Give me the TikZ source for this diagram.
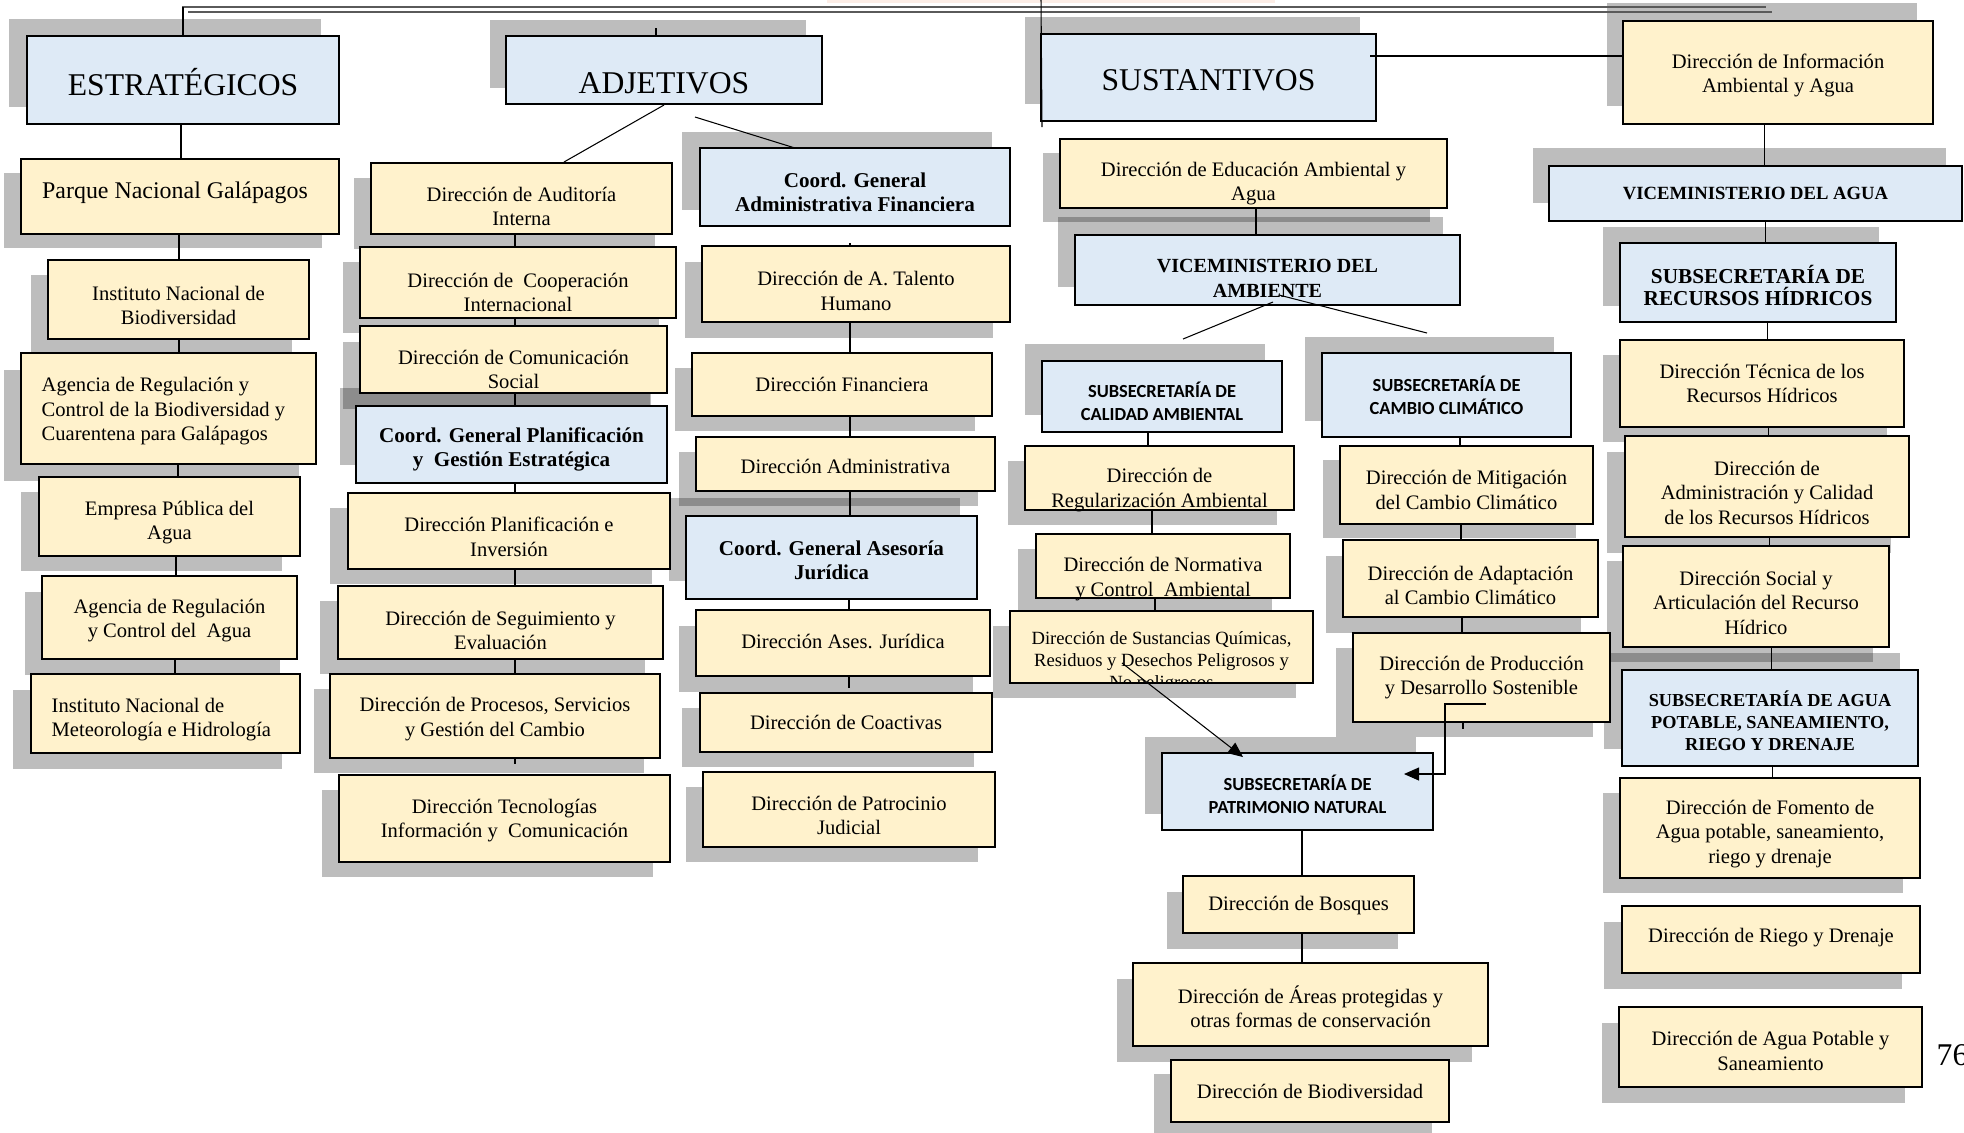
\documentclass[tikz,border=0pt]{standalone}
\usepackage{fontspec}
\setmainfont{Liberation Serif}
\newfontfamily\carlito{Carlito}
\usetikzlibrary{calc,arrows.meta}
\definecolor{yelc}{HTML}{FFF2CC}
\definecolor{bluc}{HTML}{DEEAF6}
\definecolor{topc}{HTML}{5A5A5A}
\definecolor{pinkc}{HTML}{FCEDE6}
\pgfdeclarelayer{paper}
\pgfdeclarelayer{background}
\pgfsetlayers{paper,background,main}
\newcommand\txtf{\fontsize{5.85}{6.97}\selectfont}
\newcommand\bigf{\fontsize{9}{11}\selectfont}
\newcommand\parf{\fontsize{6.8}{8}\selectfont}
\newcommand\bldf{\fontsize{6}{6.9}\selectfont\bfseries}
\newcommand\vaguaf{\fontsize{5.3}{6}\selectfont\bfseries}
\newcommand\srhf{\fontsize{6.05}{6.5}\selectfont\bfseries}
\newcommand\sapf{\fontsize{5.2}{6.2}\selectfont\bfseries}
\newcommand\vamf{\fontsize{5.7}{7.1}\selectfont\bfseries}
\newcommand\sansf{\carlito\fontsize{5.25}{6.45}\selectfont\bfseries}
\newcommand\smf{\fontsize{5.3}{6.2}\selectfont}
\pgfkeys{/bx/.is family}
\pgfkeys{/bx,
  tx/.store in=\bxtx, ty/.store in=\bxty, ind/.store in=\bxind,
  fill/.store in=\bxfill, font/.store in=\bxfont, cl/.store in=\bxcl,
  yel/.style={fill=yelc}, blu/.style={fill=bluc}}
\tikzset{
  boxs/.style={draw=black, line width=0.4pt, inner sep=0pt, outer sep=0pt, rectangle},
  tnode/.style={font=\bxfont, align=center, inner sep=0pt},
  shadowc/.style={fill=black, fill opacity=0.26},
  conn/.style={draw=black, line width=0.3pt},
  topl/.style={draw=topc, line width=0.45pt},
  arr/.style={-{Triangle[length=1.5mm,width=1.3mm]}}
}
% \obox name (x1,y1)(x2,y2)(sx,sy){options}{text}
\def\obox#1(#2,#3)(#4,#5)(#6,#7)#8#9{%
\begingroup
\pgfkeys{/bx,tx=0,ty=0,ind=-1,fill=yelc,font=\txtf,cl=0,#8}%
\pgfmathsetmacro\bxcx{(#2+#4)/2}%
\pgfmathsetmacro\bxcy{(#3+#5)/2}%
\begin{pgfonlayer}{background}%
\fill[shadowc] ({#2+#6},{#3+#7}) rectangle ({#4+#6},{#5+#7});%
\end{pgfonlayer}%
\node[boxs,fill=\bxfill,minimum width={(#4-#2)*0.01cm},minimum height={(#5-#3)*0.01cm}] (#1) at (\bxcx,\bxcy) {};%
\begin{scope}
\ifnum\bxcl=1 \clip (#1.south west) rectangle (#1.north east);\fi
\ifdim\bxind pt<0pt
\node[tnode] (#1-t) at ({\bxcx+\bxtx},{\bxcy+\bxty}) {#9};
\else
\node[tnode,align=left,anchor=west] (#1-t) at ({#2+\bxind},{\bxcy+\bxty}) {#9};
\fi
\end{scope}
\endgroup}
\newcommand\vl[3]{\draw[conn] (#1,0 |- #2.south) -- (#1,0 |- #3.north);}
\begin{document}
\begin{tikzpicture}[x=0.01cm,y=-0.01cm]
\begin{pgfonlayer}{paper}
\fill[white] (0,0) rectangle (1964,1132);
\end{pgfonlayer}
\useasboundingbox (0,0) rectangle (1964,1132);
\fill[pinkc] (827,0) rectangle (1275,2.5);
% top double line
\draw[topl] (182,7) -- (1766,7);
\draw[topl] (188,12) -- (1772,12);

% ESTRATEGICOS column
\obox estr(27,36)(339,124)(-18,-17){blu,font=\bigf,ty=2}{ESTRATÉGICOS}
\obox parque(21,159)(339,234)(-17,14){font=\parf,ty=-4,tx=-5}{Parque Nacional Galápagos}
\obox inst(48,260)(309,339)(-17,15){ty=6}{Instituto Nacional de\\Biodiversidad}
\obox agbio(21,353)(316,464)(-17,17){ind=20,ty=3}{Agencia de Regulación y\\Control de la Biodiversidad y\\Cuarentena para Galápagos}
\obox emp(39,477)(300,556)(-18,15){ty=6}{Empresa Pública del\\Agua}
\obox agag(42,576)(297,659)(-17,16){ty=3}{Agencia de Regulación\\y Control del~ Agua}
\obox meteo(31,674)(300,753)(-18,16){ind=20,ty=6}{Instituto Nacional de\\Meteorología e Hidrología}

% ADJETIVOS
\obox adj(506,36)(822,104)(-16,-16){blu,font=\bigf,ty=13}{ADJETIVOS}
\obox aud(371,163)(672,234)(-17,15){ty=8}{Dirección de Auditoría\\Interna}
\obox coop(360,247)(676,318)(-17,15){ty=10}{Dirección de~ Cooperación\\Internacional}
\obox com(360,326)(667,393)(-17,16){ty=10}{Dirección de Comunicación\\Social}
\obox cplan(356,406)(667,483)(-16,-18){blu,font=\bldf,ty=5}{Coord. General Planificación\\y~ Gestión Estratégica}
\obox pinv(348,493)(670,569)(-18,15){ty=6}{Dirección Planificación e\\Inversión}
\obox seg(338,586)(663,659)(-18,15){ty=8}{Dirección de Seguimiento y\\Evaluación}
\obox proc(330,674)(660,758)(-16,15){ty=3}{Dirección de Procesos, Servicios\\y Gestión del Cambio}
\obox tec(339,775)(670,862)(-17,15){ty=2}{Dirección Tecnologías\\Información y~ Comunicación}
\obox caf(700,148)(1010,226)(-18,-16){blu,font=\bldf,ty=5}{Coord. General\\Administrativa Financiera}
\obox tal(702,246)(1010,322)(-17,16){ty=7}{Dirección de A. Talento\\Humano}
\obox fin(692,353)(992,416)(-17,15){}{Dirección Financiera}
\obox adm(696,437)(995,491)(-17,15){ty=2}{Dirección Administrativa}
\obox caj(686,516)(977,599)(-17,-18){blu,font=\bldf,ty=3}{Coord. General Asesoría\\Jurídica}
\obox asj(696,610)(990,676)(-17,16){ty=-2}{Dirección Ases. Jurídica}
\obox coa(700,693)(992,752)(-18,15){}{Dirección de Coactivas}
\obox patj(703,772)(995,847)(-17,15){ty=6}{Dirección de Patrocinio\\Judicial}

% SUSTANTIVOS
\obox sust(1041,34)(1376,121)(-16,-17){blu,font=\bigf,ty=3}{SUSTANTIVOS}
\obox info(1623,21)(1933,124)(-16,-18){ty=3}{Dirección de Información\\Ambiental y Agua}
\obox edu(1060,139)(1447,208)(-17,14){ty=10}{Dirección de Educación Ambiental y\\Agua}
\obox vam(1075,235)(1460,305)(-17,-18){blu,font=\vamf,ty=8}{VICEMINISTERIO DEL\\AMBIENTE}
\obox cal(1042,361)(1282,432)(-17,-17){blu,font=\sansf,ty=5}{SUBSECRETARÍA DE\\CALIDAD AMBIENTAL}
\obox cc(1322,353)(1571,437)(-17,-16){blu,font=\sansf}{SUBSECRETARÍA DE\\CAMBIO CLIMÁTICO}
\obox reg(1025,446)(1294,510)(-17,15){ty=12}{Dirección de\\Regularización Ambiental}
\obox norm(1036,534)(1290,598)(-18,15){ty=13}{Dirección de Normativa\\y Control~ Ambiental}
\obox quim(1010,611)(1313,683)(-17,15){font=\smf,ty=15,cl=1}{Dirección de Sustancias Químicas,\\Residuos y Desechos Peligrosos y\\No peligrosos}
\obox mit(1340,446)(1593,524)(-17,14){ty=5}{Dirección de Mitigación\\del Cambio Climático}
\obox adap(1343,540)(1598,617)(-17,16){ty=7}{Dirección de Adaptación\\al Cambio Climático}
\obox prod(1353,633)(1610,722)(-17,15){}{Dirección de Producción\\y Desarrollo Sostenible}
\obox pat(1162,753)(1433,830)(-17,-16){blu,font=\sansf,ty=3}{SUBSECRETARÍA DE\\PATRIMONIO NATURAL}
\obox bos(1183,876)(1414,933)(-16,16){ty=1}{Dirección de Bosques}
\obox areas(1133,963)(1488,1046)(-16,16){ty=2}{Dirección de Áreas protegidas y\\otras formas de conservación}
\obox biod(1171,1060)(1449,1122)(-17,14){}{Dirección de Biodiversidad}
\obox vagua(1549,166)(1962,221)(-16,-18){blu,font=\vaguaf}{VICEMINISTERIO DEL AGUA}
\obox srh(1620,243)(1896,322)(-17,-16){blu,font=\srhf,ty=3}{SUBSECRETARÍA DE\\RECURSOS HÍDRICOS}
\obox tecn(1620,340)(1904,427)(-17,15){}{Dirección Técnica de los\\Recursos Hídricos}
\obox admc(1625,436)(1909,537)(-18,16){ty=6}{Dirección de\\Administración y Calidad\\de los Recursos Hídricos}
\obox soc(1623,546)(1889,647)(-16,15){ty=6}{Dirección Social y\\Articulación del Recurso\\Hídrico}
\obox sap(1622,670)(1918,766)(-18,-17){blu,font=\sapf,ty=3}{SUBSECRETARÍA DE AGUA\\POTABLE, SANEAMIENTO,\\RIEGO Y DRENAJE}
\obox fom(1620,778)(1920,878)(-17,15){ty=6}{Dirección de Fomento de\\Agua potable, saneamiento,\\riego y drenaje}
\obox rie(1622,906)(1920,973)(-18,16){ty=-2}{Dirección de Riego y Drenaje}
\obox aps(1619,1007)(1922,1087)(-17,16){ty=4}{Dirección de Agua Potable y\\Saneamiento}

\node[font=\bigf,anchor=west,inner sep=0pt] (pgnum) at (1936,1055) {76};

% connectors
\draw[conn] (estr.north |- 0,7) -- (estr.north);
\draw[conn] (sust.north west |- 0,0) -- ($(sust.south west)+(1,6)$);
\coordinate (adjt) at (656,28);
\draw[conn] (adjt) -- (adjt |- adj.north);
\draw[conn] ($(adj.south)+(0,1)$) -- ($(aud.north)+(42.5,-1)$);
\coordinate (adjd) at (695,117);
\draw[conn] (adjd) -- ($(caf.north)+(-60,0)$);
\vl{181}{estr}{parque}
\vl{179}{parque}{inst}
\vl{179}{inst}{agbio}
\vl{178}{agbio}{emp}
\vl{176}{emp}{agag}
\vl{175}{agag}{meteo}
\vl{515}{aud}{coop}
\vl{515}{coop}{com}
\vl{515}{com}{cplan}
\vl{515}{cplan}{pinv}
\vl{515}{pinv}{seg}
\vl{515}{seg}{proc}
\coordinate (procs) at (515,764);
\draw[conn] (515,0 |- proc.south) -- (procs);
\coordinate (talt) at (850,243);
\draw[conn] (talt) -- (talt |- tal.north);
\vl{850}{tal}{fin}
\vl{850}{fin}{adm}
\vl{850}{adm}{caj}
\vl{849}{caj}{asj}
\coordinate (asjs) at (849,688);
\draw[conn] (849,0 |- asj.south) -- (asjs);
\draw[conn] ($(sust.east)+(-6,-21.5)$) -- ($(info.west)+(0,-16.5)$);
\vl{1256}{edu}{vam}
\coordinate (vd1) at (1183,339);
\coordinate (vd2) at (1427,333);
\draw[conn] ($(vam.center)+(5.5,32)$) -- (vd1);
\draw[conn] ($(vam.center)+(11.5,25)$) -- (vd2);
\vl{1148}{cal}{reg}
\vl{1152}{reg}{norm}
\vl{1155}{norm}{quim}
\vl{1460}{cc}{mit}
\vl{1461}{mit}{adap}
\vl{1462}{adap}{prod}
\coordinate (prods) at (1463,729);
\draw[conn] (1463,0 |- prod.south) -- (prods);
\draw[conn,arr] ($(quim.center)+(-39.5,16)$) -- ($(pat.center)+(-54.5,-34.5)$);
\draw[conn,arr] ($(prod.center)+(4.5,26.5)$) -- ++(-41,0) |- ($(pat.center)+(106.5,-17.5)$);
\vl{1302}{pat}{bos}
\vl{1302}{bos}{areas}
\vl{1764}{info}{vagua}
\vl{1765}{vagua}{srh}
\vl{1767}{srh}{tecn}
\vl{1768}{tecn}{admc}
\vl{1769}{admc}{soc}
\vl{1771}{soc}{sap}
\vl{1772}{sap}{fom}
\end{tikzpicture}
\end{document}
